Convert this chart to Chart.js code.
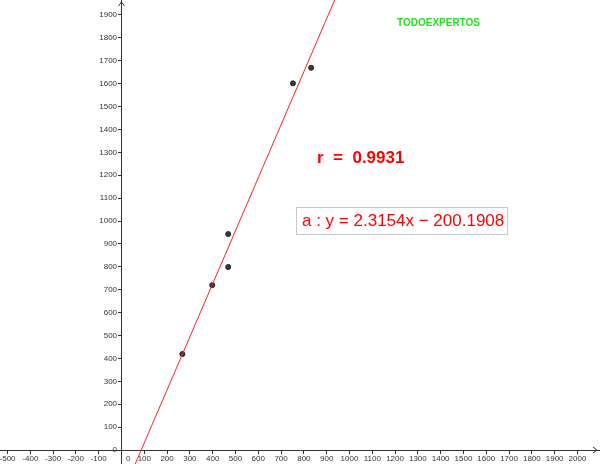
<!DOCTYPE html>
<html>
<head>
<meta charset="utf-8">
<script src="https://cdn.jsdelivr.net/npm/chart.js@4.4.1/dist/chart.umd.min.js"></script>
<style>
  body { margin: 0; background: #fff; }
  #wrap { width: 600px; height: 464px; }
</style>
</head>
<body>
<div id="wrap"><canvas id="myChart" width="600" height="464"></canvas></div>
<script>
// points
var xs = [267, 398, 468, 468, 752, 832];
var ys = [419, 720, 799, 943, 1601, 1669];

// regression line a: y = slope*x + intercept
var slope = 2.3154;
var intercept = -200.1908;
var rValue = 0.9931;

// visible window and ticks
var xMin = -533, xMax = 2099;
var yMin = -61, yMax = 1965;
var xTickFirst = -500, xTickLast = 2000;
var yTickFirst = 0, yTickLast = 1900;
var tickStep = 100;

var points = xs.map(function (x, i) { return { x: x, y: ys[i] }; });
var fitLine = [
  { x: (yMin - intercept) / slope, y: yMin },
  { x: (yMax - intercept) / slope, y: yMax }
];

function makeTicks(first, last) {
  var out = [];
  for (var v = first; v <= last; v += tickStep) out.push({ value: v });
  return out;
}
function noPad(s) {
  s.paddingLeft = 0; s.paddingRight = 0; s.paddingTop = 0; s.paddingBottom = 0;
}

var tickFont = { family: "'Liberation Sans Narrow', 'Arial Narrow', 'Liberation Sans', sans-serif", size: 8 };

// arrows on the axes + the text boxes
var extras = {
  id: 'extras',
  afterDraw: function (chart) {
    var c = chart.ctx;
    var ox = chart.scales.x.getPixelForValue(0);
    var oy = chart.scales.y.getPixelForValue(0);
    var right = chart.width, top = 0;
    c.save();
    c.strokeStyle = '#333';
    c.lineWidth = 1;
    c.beginPath();
    c.moveTo(right - 7, oy - 3); c.lineTo(right - 3, oy); c.lineTo(right - 7, oy + 3);
    c.moveTo(ox - 3, top + 6); c.lineTo(ox, top + 2); c.lineTo(ox + 3, top + 6);
    c.stroke();

    c.fillStyle = '#22e022';
    c.font = "bold 10px 'Liberation Sans', Arial, sans-serif";
    c.textBaseline = 'alphabetic';
    c.textAlign = 'left';
    c.fillText('TODOEXPERTOS', 397, 26);

    c.fillStyle = '#ff0000';
    c.font = "bold 17px 'Liberation Sans', Arial, sans-serif";
    c.fillText('r  =  ' + rValue.toFixed(4), 317, 163);

    c.fillStyle = '#fff';
    c.fillRect(296.5, 207.5, 211, 27);
    c.strokeStyle = '#c8c8c8';
    c.strokeRect(296.5, 207.5, 211, 27);
    c.fillStyle = '#ff0000';
    c.font = "17px 'Liberation Sans', Arial, sans-serif";
    c.fillText('a : y = ' + slope.toFixed(4) + 'x \u2212 ' + Math.abs(intercept).toFixed(4), 302, 226);
    c.restore();
  }
};

var ctx = document.getElementById('myChart');
var myChart = new Chart(ctx, {
  type: 'scatter',
  data: {
    datasets: [
      {
        label: 'a',
        data: fitLine,
        showLine: true,
        borderColor: '#ff2020',
        borderWidth: 1,
        pointRadius: 0,
        fill: false
      },
      {
        label: 'puntos',
        data: points,
        pointRadius: 2.5,
        pointBackgroundColor: '#3a3a3a',
        pointBorderColor: '#222',
        pointBorderWidth: 1
      }
    ]
  },
  options: {
    responsive: false,
    animation: false,
    layout: { padding: 0, autoPadding: false },
    plugins: { legend: { display: false }, tooltip: { enabled: false } },
    scales: {
      x: {
        type: 'linear',
        min: xMin,
        max: xMax,
        position: { y: 0 },
        afterFit: function (s) { s.height = 0; noPad(s); },
        afterBuildTicks: function (s) { s.ticks = makeTicks(xTickFirst, xTickLast); },
        grid: { drawOnChartArea: false, tickLength: 3, color: '#333' },
        border: { color: '#333', width: 1 },
        ticks: {
          autoSkip: false,
          maxRotation: 0,
          minRotation: 0,
          padding: 1,
          color: '#333',
          font: tickFont,
          callback: function (v) { return v === 0 ? '      0' : String(v); }
        }
      },
      y: {
        type: 'linear',
        min: yMin,
        max: yMax,
        position: { x: 0 },
        afterFit: function (s) { s.width = 0; noPad(s); },
        afterBuildTicks: function (s) { s.ticks = makeTicks(yTickFirst, yTickLast); },
        grid: { drawOnChartArea: false, tickLength: 3, color: '#333' },
        border: { color: '#333', width: 1 },
        ticks: {
          autoSkip: false,
          color: '#333',
          font: tickFont,
          callback: function (v) { return String(v) + '  '; }
        }
      }
    }
  },
  plugins: [extras]
});
</script>
</body>
</html>
